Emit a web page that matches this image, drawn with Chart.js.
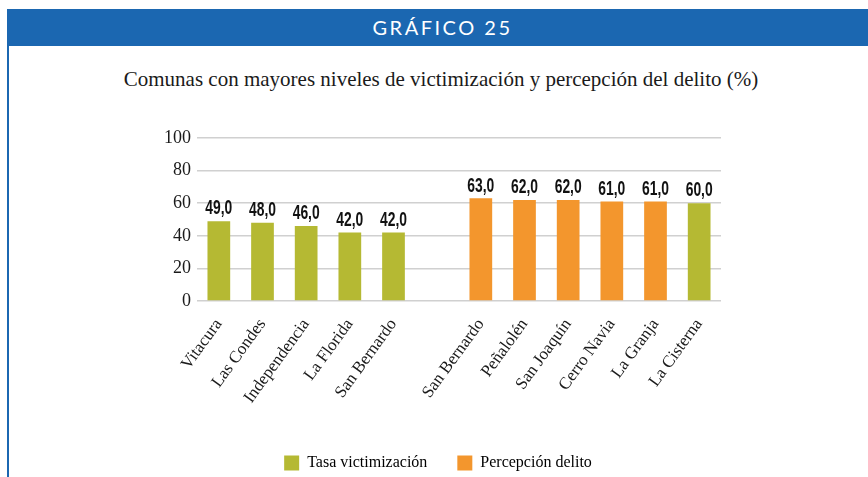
<!DOCTYPE html>
<html lang="es">
<head>
    <meta charset="UTF-8" />
    <title>Gráfico 25</title>
    <style>
        html, body { margin: 0; padding: 0; background: #fff; }
        body { width: 868px; height: 477px; position: relative; overflow: hidden; }
        .band {
            position: absolute; left: 7px; top: 9px; right: 0; height: 37px;
            background: #1b67b1; color: #fff;
            font-family: Lato, "Open Sans", sans-serif; font-size: 20px; letter-spacing: 2.5px;
            text-align: center; line-height: 37px; padding-left: 10px;
        }
        .edge { position: absolute; left: 7px; top: 9px; width: 2px; bottom: 0; background: #1b67b1; }
        .title {
            position: absolute; left: 0; right: 0; top: 67px; text-align: center;
            font-family: "Liberation Serif", "DejaVu Serif", serif; font-size: 21px; color: #1a1a1a;
            padding-left: 14px;
        }
        .chart-box { position: absolute; left: 0; top: 100px; width: 868px; height: 381px; }
    </style>
</head>
<body>
    <div class="band">GRÁFICO 25</div>
    <div class="edge"></div>
    <div class="title">Comunas con mayores niveles de victimización y percepción del delito (%)</div>
    <div class="chart-box"><canvas id="chart"></canvas></div>

    <script src="https://cdn.jsdelivr.net/npm/chart.js@4.4.1/dist/chart.umd.min.js"></script>
    <script>
        // comunas, the empty label is the gap between both groups
        const victimLabels = ['Vitacura', 'Las Condes', 'Independencia', 'La Florida', 'San Bernardo'];
        const percepLabels = ['San Bernardo', 'Peñalolén', 'San Joaquín', 'Cerro Navia', 'La Granja', 'La Cisterna'];
        const victimValues = [49, 48, 46, 42, 42];
        const percepValues = [63, 62, 62, 61, 61, 60];
        const yTicks = [0, 20, 40, 60, 80, 100];

        const green = '#b5b933';
        const orange = '#f3962d';
        // last bar (La Cisterna) is green in the original
        const percepColors = [orange, orange, orange, orange, orange, green];

        const labels = victimLabels.concat([''], percepLabels);
        const blank = n => new Array(n).fill(null);

        // narrow bold numbers: squeeze a normal bold font horizontally
        const valueLabels = {
            id: 'valueLabels',
            afterDatasetsDraw(chart) {
                const ctx = chart.ctx;
                const sx = 0.66;
                ctx.save();
                ctx.font = 'bold 21px "Liberation Sans", Arial, sans-serif';
                ctx.fillStyle = '#111';
                ctx.textAlign = 'center';
                ctx.textBaseline = 'bottom';
                chart.data.datasets.forEach((ds, i) => {
                    chart.getDatasetMeta(i).data.forEach((bar, j) => {
                        const v = ds.data[j];
                        if (v === null) return;
                        ctx.save();
                        ctx.translate(bar.x, bar.y - 2);
                        ctx.scale(sx, 1);
                        ctx.fillText(v.toFixed(1).replace('.', ','), 0, 0);
                        ctx.restore();
                    });
                });
                ctx.restore();
            }
        };

        new Chart(document.getElementById('chart'), {
            type: 'bar',
            data: {
                labels: labels,
                datasets: [{
                    label: 'Tasa victimización',
                    data: victimValues.concat(blank(1 + percepValues.length)),
                    backgroundColor: green
                }, {
                    label: 'Percepción delito',
                    data: blank(victimValues.length + 1).concat(percepValues),
                    backgroundColor: percepColors
                }]
            },
            options: {
                responsive: true,
                maintainAspectRatio: false,
                animation: false,
                skipNull: true,
                categoryPercentage: 1,
                barPercentage: 0.52,
                layout: { padding: { left: 155, right: 147, top: 38, bottom: 0 } },
                scales: {
                    x: {
                        grid: { display: false },
                        border: { display: false },
                        afterFit: s => { s.height = 124; },
                        ticks: {
                            autoSkip: false,
                            minRotation: 54,
                            maxRotation: 54,
                            padding: 6,
                            color: '#1a1a1a',
                            font: { family: '"Liberation Serif", "DejaVu Serif", serif', size: 17 }
                        }
                    },
                    y: {
                        min: 0,
                        max: 100,
                        afterFit: s => { s.width = 42; },
                        afterBuildTicks: s => { s.ticks = yTicks.map(v => ({ value: v })); },
                        border: { display: false },
                        grid: { color: '#d0d0d0', lineWidth: 1.5, drawTicks: false },
                        ticks: {
                            padding: 6,
                            color: '#1a1a1a',
                            font: { family: '"Liberation Serif", "DejaVu Serif", serif', size: 18 }
                        }
                    }
                },
                plugins: {
                    tooltip: { enabled: false },
                    legend: {
                        position: 'bottom',
                        labels: {
                            boxWidth: 15,
                            boxHeight: 15,
                            padding: 30,
                            color: '#1a1a1a',
                            font: { family: '"Liberation Serif", "DejaVu Serif", serif', size: 16 },
                            generateLabels: chart => chart.data.datasets.map((ds, i) => ({
                                text: ds.label,
                                fillStyle: i === 0 ? green : orange,
                                strokeStyle: i === 0 ? green : orange,
                                lineWidth: 0,
                                datasetIndex: i
                            }))
                        }
                    }
                }
            },
            plugins: [valueLabels]
        });
    </script>
</body>
</html>
